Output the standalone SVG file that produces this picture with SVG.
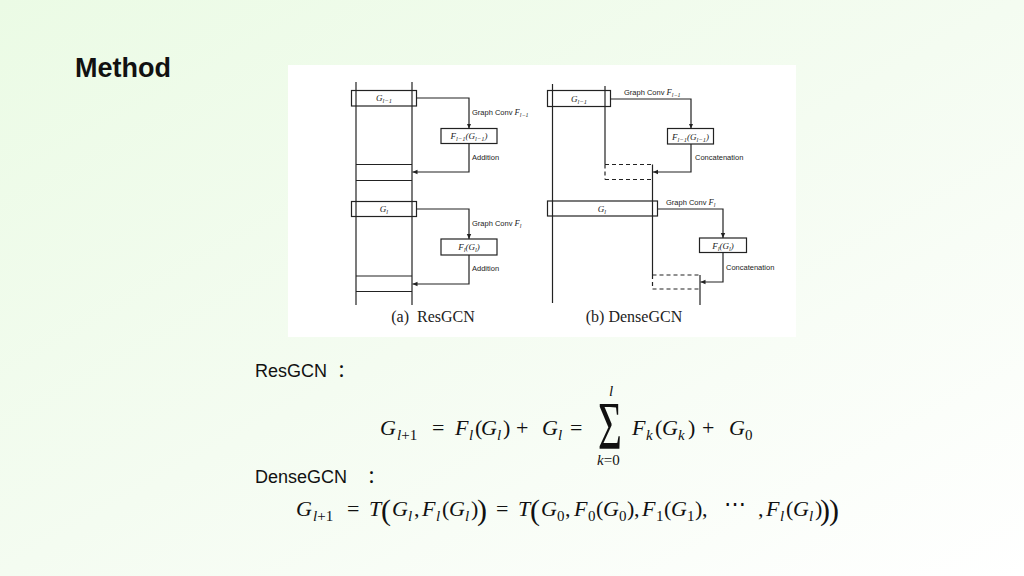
<svg xmlns="http://www.w3.org/2000/svg" width="1024" height="576" viewBox="0 0 1024 576">
<defs>
<linearGradient id="bg" x1="0" y1="0" x2="1" y2="1">
<stop offset="0" stop-color="#ebfbe5"/>
<stop offset="0.5" stop-color="#f4fcf1"/>
<stop offset="1" stop-color="#ffffff"/>
</linearGradient>
<marker id="ah" markerWidth="6" markerHeight="6" refX="5" refY="3" orient="auto" markerUnits="userSpaceOnUse">
<path d="M0,0.8 L5,3 L0,5.2 Z" fill="#222"/>
</marker>
<style>
.ln{stroke:#222;stroke-width:1.2;fill:none}
.bx{stroke:#222;stroke-width:1.2;fill:none}
.dash{stroke:#222;stroke-width:1.2;fill:none;stroke-dasharray:4 3}
.lbl{font-family:"Liberation Sans",Arial,sans-serif;font-size:7.5px;fill:#222}
.mi{font-family:"Liberation Serif","Times New Roman",serif;font-style:italic;font-size:9px;fill:#222;text-anchor:middle}
.cap{font-family:"Liberation Serif","Times New Roman",serif;font-size:16px;fill:#222;text-anchor:middle}
.h{font-family:"Liberation Sans",Arial,sans-serif;font-weight:bold;font-size:27px;fill:#111}
.t{font-family:"Liberation Sans",Arial,sans-serif;font-size:18px;fill:#111}
.c{font-family:"Noto Sans CJK SC",sans-serif;font-size:18px;fill:#111;text-anchor:middle}
.m{font-family:"Liberation Serif","Times New Roman",serif;font-style:italic;font-size:22px;fill:#111}
.u{font-family:"Liberation Serif","Times New Roman",serif;font-size:22px;fill:#111}
.big{font-family:"Liberation Serif","Times New Roman",serif;font-size:30px;fill:#111}
.sig{font-family:"Liberation Serif","Times New Roman",serif;font-size:41px;fill:#111}
.ms{font-family:"Liberation Serif","Times New Roman",serif;font-style:italic;font-size:15px;fill:#111}
.us{font-family:"Liberation Serif","Times New Roman",serif;font-size:15px;fill:#111}
</style>
</defs>
<rect width="1024" height="576" fill="url(#bg)"/>
<rect x="288" y="65" width="508" height="272" fill="#ffffff"/>

<text class="h" x="75" y="77">Method</text>

<!-- ResGCN diagram -->
<g id="resgcn">
<line class="ln" x1="356" y1="82" x2="356" y2="305"/>
<line class="ln" x1="412" y1="82" x2="412" y2="305"/>
<line class="ln" x1="356" y1="164.5" x2="412" y2="164.5"/>
<line class="ln" x1="356" y1="180.5" x2="412" y2="180.5"/>
<line class="ln" x1="356" y1="276" x2="412" y2="276"/>
<line class="ln" x1="356" y1="291.5" x2="412" y2="291.5"/>
<g id="r-g1"><rect class="bx" x="351.5" y="90.5" width="65" height="15.5"/><text class="mi" x="384" y="101">G<tspan font-size="6.5" dy="2">l−1</tspan></text></g>
<g id="r-f1"><rect class="bx" x="441" y="128.5" width="56" height="15"/><text class="mi" x="469" y="139">F<tspan font-size="6.5" dy="2">l−1</tspan><tspan dy="-2">(G</tspan><tspan font-size="6.5" dy="2">l−1</tspan><tspan dy="-2">)</tspan></text></g>
<g id="r-g2"><rect class="bx" x="351.5" y="201.5" width="65" height="15"/><text class="mi" x="384" y="212">G<tspan font-size="6.5" dy="2">l</tspan></text></g>
<g id="r-f2"><rect class="bx" x="441" y="239" width="56" height="16"/><text class="mi" x="469" y="250">F<tspan font-size="6.5" dy="2">l</tspan><tspan dy="-2">(G</tspan><tspan font-size="6.5" dy="2">l</tspan><tspan dy="-2">)</tspan></text></g>
<g id="r-conn">
<path class="ln" d="M416.5,98 H469 V128.5" marker-end="url(#ah)"/>
<path class="ln" d="M469,143.5 V172 H412.5" marker-end="url(#ah)"/>
<path class="ln" d="M416.5,209 H469 V239" marker-end="url(#ah)"/>
<path class="ln" d="M469,255 V284 H412.5" marker-end="url(#ah)"/>
</g>
<text class="lbl" x="472" y="115">Graph Conv <tspan font-family="Liberation Serif" font-style="italic" font-size="8.5">F</tspan><tspan font-family="Liberation Serif" font-style="italic" font-size="6" dy="2">l−1</tspan></text>
<text class="lbl" x="472" y="160">Addition</text>
<text class="lbl" x="472" y="226">Graph Conv <tspan font-family="Liberation Serif" font-style="italic" font-size="8.5">F</tspan><tspan font-family="Liberation Serif" font-style="italic" font-size="6" dy="2">l</tspan></text>
<text class="lbl" x="472" y="271">Addition</text>
<text class="cap" x="433" y="322" xml:space="preserve">(a)  ResGCN</text>
</g>

<!-- DenseGCN diagram -->
<g id="densegcn">
<line class="ln" x1="552.5" y1="84" x2="552.5" y2="303"/>
<line class="ln" x1="605" y1="86" x2="605" y2="164.5"/>
<line class="ln" x1="652.5" y1="164.5" x2="652.5" y2="275"/>
<line class="ln" x1="700" y1="275" x2="700" y2="305"/>
<g id="d-g1"><rect class="bx" x="547.5" y="90.5" width="63" height="16"/><text class="mi" x="579" y="101.5">G<tspan font-size="6.5" dy="2">l−1</tspan></text></g>
<g id="d-f1"><rect class="bx" x="667.5" y="128.5" width="46" height="15.5"/><text class="mi" x="690.5" y="139.5">F<tspan font-size="6.5" dy="2">l−1</tspan><tspan dy="-2">(G</tspan><tspan font-size="6.5" dy="2">l−1</tspan><tspan dy="-2">)</tspan></text></g>
<g id="d-c1"><path class="dash" d="M605,164.5 H652.5 M605,179.5 H652.5 M605,164.5 V179.5"/></g>
<g id="d-g2"><rect class="bx" x="547.5" y="201" width="110" height="15"/><text class="mi" x="602" y="211.5">G<tspan font-size="6.5" dy="2">l</tspan></text></g>
<g id="d-f2"><rect class="bx" x="699.5" y="238" width="47" height="14.5"/><text class="mi" x="723" y="248.5">F<tspan font-size="6.5" dy="2">l</tspan><tspan dy="-2">(G</tspan><tspan font-size="6.5" dy="2">l</tspan><tspan dy="-2">)</tspan></text></g>
<g id="d-c2"><path class="dash" d="M652.5,275 H700 M652.5,289 H700 M652.5,275 V289"/></g>
<g id="d-conn">
<path class="ln" d="M610.5,99 H691 V128.5" marker-end="url(#ah)"/>
<path class="ln" d="M691,144 V172 H653" marker-end="url(#ah)"/>
<path class="ln" d="M657.5,209 H723 V238" marker-end="url(#ah)"/>
<path class="ln" d="M723,252.5 V282 H700.5" marker-end="url(#ah)"/>
</g>
<text class="lbl" x="624" y="95">Graph Conv <tspan font-family="Liberation Serif" font-style="italic" font-size="8.5">F</tspan><tspan font-family="Liberation Serif" font-style="italic" font-size="6" dy="2">l−1</tspan></text>
<text class="lbl" x="695" y="160">Concatenation</text>
<text class="lbl" x="666" y="205">Graph Conv <tspan font-family="Liberation Serif" font-style="italic" font-size="8.5">F</tspan><tspan font-family="Liberation Serif" font-style="italic" font-size="6" dy="2">l</tspan></text>
<text class="lbl" x="726" y="270">Concatenation</text>
<text class="cap" x="634" y="322">(b) DenseGCN</text>
</g>

<!-- Formulas -->
<text class="t" x="255" y="377">ResGCN</text>
<text class="c" x="346" y="377">：</text>
<g id="eq1">
<text class="m" x="380" y="435">G</text>
<text x="397" y="440"><tspan class="ms">l</tspan><tspan class="us">+1</tspan></text>
<text class="u" x="432" y="435">=</text>
<text class="m" x="455" y="435">F</text>
<text class="ms" x="469" y="440">l</text>
<text class="u" x="475" y="435">(</text>
<text class="m" x="481" y="435">G</text>
<text class="ms" x="497" y="440">l</text>
<text class="u" x="503" y="435">)</text>
<text class="u" x="516" y="435">+</text>
<text class="m" x="542" y="435">G</text>
<text class="ms" x="558" y="440">l</text>
<text class="u" x="570" y="435">=</text>
<text class="sig" transform="translate(598,448) scale(1,1.66)">Σ</text>
<text class="ms" x="609" y="396">l</text>
<text x="597" y="465"><tspan class="ms">k</tspan><tspan class="us">=0</tspan></text>
<text class="m" x="632" y="435">F</text>
<text class="ms" x="646" y="440">k</text>
<text class="u" x="655" y="435">(</text>
<text class="m" x="662" y="435">G</text>
<text class="ms" x="678" y="440">k</text>
<text class="u" x="688" y="435">)</text>
<text class="u" x="702" y="435">+</text>
<text class="m" x="729" y="435">G</text>
<text class="us" x="745" y="440">0</text>
</g>

<text class="t" x="255" y="483">DenseGCN</text>
<text class="c" x="376" y="483">：</text>
<g id="eq2">
<text class="m" x="296" y="516">G</text>
<text x="313" y="521"><tspan class="ms">l</tspan><tspan class="us">+1</tspan></text>
<text class="u" x="347" y="516">=</text>
<text class="m" x="369" y="516">T</text>
<text class="big" x="381" y="520">(</text>
<text class="m" x="392" y="516">G</text>
<text class="ms" x="408" y="521">l</text>
<text class="u" x="414" y="516">,</text>
<text class="m" x="422" y="516">F</text>
<text class="ms" x="436" y="521">l</text>
<text class="u" x="442" y="516">(</text>
<text class="m" x="449" y="516">G</text>
<text class="ms" x="465" y="521">l</text>
<text class="u" x="471" y="516">)</text>
<text class="big" x="477" y="520">)</text>
<text class="u" x="496" y="516">=</text>
<text class="m" x="518" y="516">T</text>
<text class="big" x="530" y="520">(</text>
<text class="m" x="541" y="516">G</text>
<text class="us" x="557" y="521">0</text>
<text class="u" x="565" y="516">,</text>
<text class="m" x="574" y="516">F</text>
<text class="us" x="588" y="521">0</text>
<text class="u" x="596" y="516">(</text>
<text class="m" x="603" y="516">G</text>
<text class="us" x="619" y="521">0</text>
<text class="u" x="627" y="516">)</text>
<text class="u" x="634" y="516">,</text>
<text class="m" x="642" y="516">F</text>
<text class="us" x="656" y="521">1</text>
<text class="u" x="664" y="516">(</text>
<text class="m" x="671" y="516">G</text>
<text class="us" x="687" y="521">1</text>
<text class="u" x="695" y="516">)</text>
<text class="u" x="702" y="516">,</text>
<text class="u" x="724" y="511">⋯</text>
<text class="u" x="758" y="516">,</text>
<text class="m" x="766" y="516">F</text>
<text class="ms" x="780" y="521">l</text>
<text class="u" x="786" y="516">(</text>
<text class="m" x="793" y="516">G</text>
<text class="ms" x="809" y="521">l</text>
<text class="u" x="815" y="516">)</text>
<text class="big" x="820" y="520">)</text>
<text class="big" x="829" y="520">)</text>
</g>
</svg>
